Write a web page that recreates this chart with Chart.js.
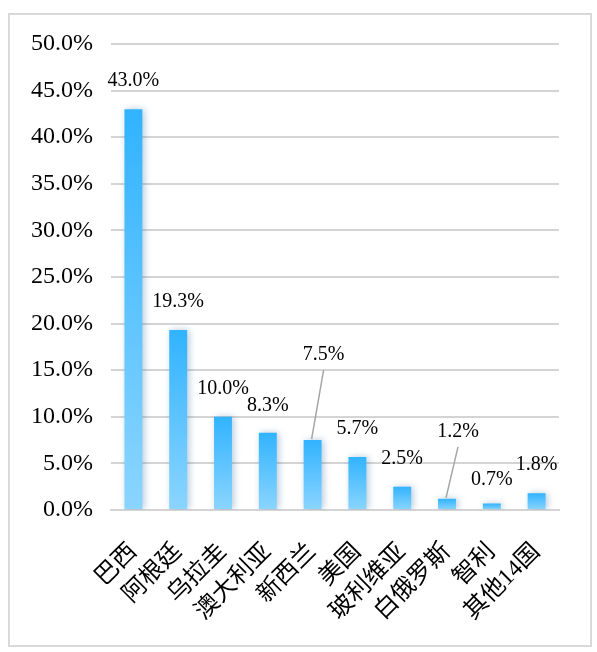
<!DOCTYPE html>
<html>
<head>
<meta charset="utf-8">
<script src="https://cdn.jsdelivr.net/npm/chart.js@4"></script>
<style>
    html, body { margin: 0; padding: 0; background: #fff; }
    #wrap { position: relative; width: 597px; height: 652px; }
    #frame { position: absolute; left: 8px; top: 13px; width: 580px; height: 630px; border: 2px solid #d9d9d9; }
    #chart { position: absolute; left: 0; top: 0; }
</style>
</head>
<body>
<div id="wrap">
    <div id="frame"></div>
    <canvas id="chart" width="597" height="652"></canvas>
</div>
<script>
    // 各国占比 (%)
    const categories = ["巴西", "阿根廷", "乌拉圭", "澳大利亚", "新西兰", "美国", "玻利维亚", "白俄罗斯", "智利", "其他14国"];
    const shares = [43.0, 19.3, 10.0, 8.3, 7.5, 5.7, 2.5, 1.2, 0.7, 1.8];
    const yMin = 0, yMax = 50, yStep = 5;

    // label placement relative to bar top centre: [dx, dy, leader line]
    const labelPlacement = [
        [0, -28, false], [0, -28, false], [0, -28, false], [0, -27, false], [11, -85, true],
        [0, -28, false], [0, -28, false], [11, -67, true], [0, -24, false], [0, -28, false]
    ];

    const serif = '"Liberation Serif", "Times New Roman", serif';
    const cjk = '"Liberation Serif", "Noto Sans CJK SC", serif';

    function barGradient(context) {
        const chart = context.chart;
        const y = chart.scales.y;
        if (!y || context.dataIndex == null) return "#33b5ff";
        const top = y.getPixelForValue(shares[context.dataIndex]);
        const base = y.getPixelForValue(0);
        if (!isFinite(top) || !isFinite(base) || top === base) return "#33b5ff";
        const g = chart.ctx.createLinearGradient(0, top, 0, base);
        g.addColorStop(0, "#31b3ff");
        g.addColorStop(1, "#8bd5ff");
        return g;
    }

    const barShadow = {
        id: "barShadow",
        beforeDatasetsDraw(chart) {
            const ctx = chart.ctx;
            ctx.save();
            ctx.shadowColor = "rgba(40,100,150,0.35)";
            ctx.shadowBlur = 7;
            ctx.shadowOffsetX = 2;
            ctx.shadowOffsetY = 0;
        },
        afterDatasetsDraw(chart) {
            chart.ctx.restore();
        }
    };

    const valueLabels = {
        id: "valueLabels",
        afterDatasetsDraw(chart) {
            const ctx = chart.ctx;
            const meta = chart.getDatasetMeta(0);
            ctx.save();
            ctx.font = "20px " + serif;
            ctx.fillStyle = "#000";
            ctx.textAlign = "center";
            ctx.textBaseline = "middle";
            meta.data.forEach((bar, i) => {
                const [dx, dy, leader] = labelPlacement[i];
                const tx = bar.x + dx, ty = bar.y + dy;
                ctx.fillText(shares[i].toFixed(1) + "%", tx, ty);
                if (leader) {
                    ctx.beginPath();
                    ctx.strokeStyle = "#a6a6a6";
                    ctx.lineWidth = 1.5;
                    ctx.moveTo(tx, ty + 15);
                    ctx.lineTo(bar.x - 1, bar.y - 1);
                    ctx.stroke();
                }
            });
            ctx.restore();
        }
    };

    new Chart(document.getElementById("chart"), {
        type: "bar",
        data: {
            labels: categories,
            datasets: [{
                data: shares,
                backgroundColor: barGradient,
                borderWidth: 0,
                categoryPercentage: 1,
                barPercentage: 0.4
            }]
        },
        options: {
            responsive: false,
            animation: false,
            devicePixelRatio: 1,
            layout: { padding: { left: 0, top: 44, right: 38, bottom: 0 } },
            plugins: { legend: { display: false }, tooltip: { enabled: false } },
            scales: {
                x: {
                    grid: { display: false, drawTicks: false },
                    border: { display: true, color: "#d4d4d4", width: 2 },
                    ticks: {
                        autoSkip: false,
                        minRotation: 45,
                        maxRotation: 45,
                        padding: 28,
                        color: "#000",
                        font: { size: 24, family: cjk }
                    },
                    afterFit(scale) { scale.height = 142; }
                },
                y: {
                    min: yMin,
                    max: yMax,
                    grid: { color: "#d4d4d4", lineWidth: 2, drawTicks: false },
                    border: { display: false },
                    ticks: {
                        stepSize: yStep,
                        padding: 18,
                        color: "#000",
                        font: { size: 24, family: serif },
                        callback: v => v.toFixed(1) + "%"
                    },
                    afterFit(scale) { scale.width = 111; }
                }
            }
        },
        plugins: [barShadow, valueLabels]
    });
</script>
</body>
</html>
